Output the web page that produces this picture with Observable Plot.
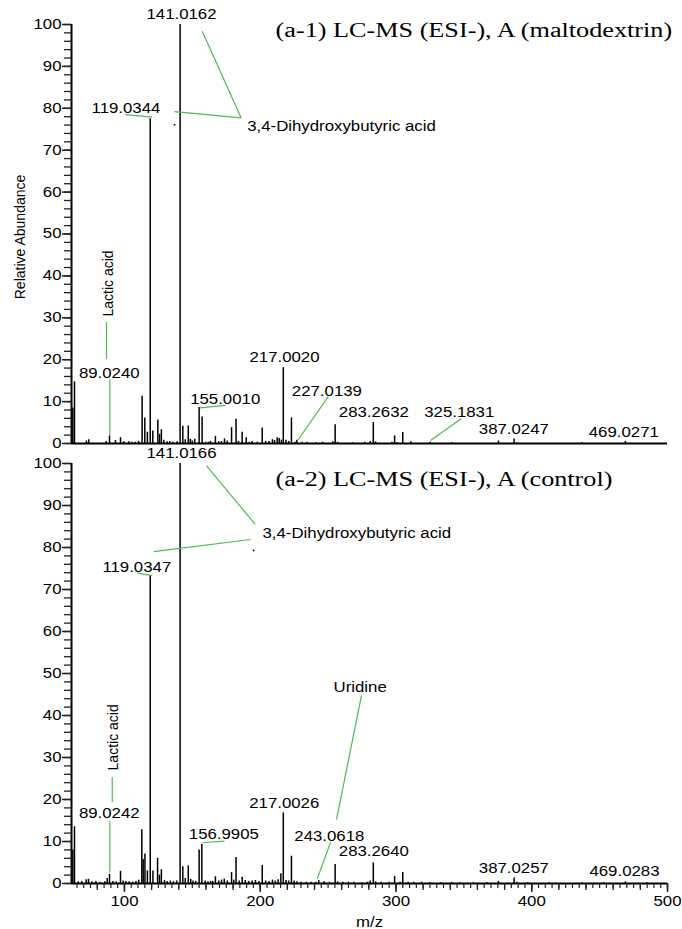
<!DOCTYPE html>
<html>
<head>
<meta charset="utf-8">
<script src="https://cdn.jsdelivr.net/npm/d3@7"></script>
<script src="https://cdn.jsdelivr.net/npm/@observablehq/plot@0.6"></script>
<style>
  html, body { margin: 0; padding: 0; background: #fff; }
  #wrap { position: relative; width: 682px; height: 929px; overflow: hidden; background: #fff; }
  #wrap svg { display: block; overflow: visible; }
</style>
</head>
<body>
<div id="wrap"></div>
<script>
// ---------- data: panel (a-1) maltodextrin ----------
const topMz  = [62.0,63.2,72.0,73.7,86.5,89.0,93.4,97.1,99.5,103.2,105.5,108.0,110.5,113.0,115.0,116.9,119.0,120.9,124.6,125.9,127.2,129.0,131.5,133.4,135.5,138.8,141.0,143.0,144.8,147.0,148.5,149.9,151.8,155.0,157.2,159.7,161.8,163.4,167.0,169.5,171.5,173.7,175.7,178.9,182.2,184.0,186.7,189.7,192.0,194.1,197.8,201.5,204.0,206.5,209.0,210.5,212.5,214.0,215.6,217.0,219.0,221.0,223.0,225.5,227.0,231.0,234.5,241.0,246.0,253.5,255.2,257.0,268.0,277.0,281.0,283.3,285.0,297.0,299.0,301.0,305.0,311.0,325.2,341.0,375.5,387.0,389.0,437.0,469.0];
const topInt = [8.5,14.7,0.6,0.9,0.5,1.8,0.7,1.4,0.4,0.4,0.3,0.3,0.5,11.3,6.1,2.7,77.5,3.0,5.6,2.2,3.3,0.8,0.4,0.5,0.3,0.4,100,4.1,0.9,4.2,1.0,0.6,1.0,8.6,6.3,0.3,0.3,0.5,1.7,0.4,0.5,1.1,0.6,3.8,5.8,0.5,2.7,1.4,0.3,0.5,0.3,3.7,0.5,0.5,0.9,0.7,1.4,1.2,0.8,18.1,0.8,0.5,6.1,0.3,0.8,0.3,0.3,0.2,0.3,0.4,4.5,0.3,0.2,0.3,0.5,5.0,0.4,0.3,1.8,0.2,2.6,0.4,0.3,0.2,0.6,1.1,0.2,0.2,0.5];

const topLabelText = ["141.0162","119.0344","89.0240","155.0010","217.0020","227.0139","283.2632","325.1831","387.0247","469.0271"];
const topLabelMz   = [142.0,101.1,88.8,174.2,217.9,249.1,283.7,346.6,386.8,467.8];
const topLabelInt  = [102.4,80.0,16.7,10.4,20.6,12.4,7.5,7.5,3.3,2.6];

const topNameText = ["3,4-Dihydroxybutyric acid"];
const topNameMz   = [190.4];
const topNameInt  = [75.7];
const topVertText = ["Lactic acid"];
const topVertMz   = [88.3];
const topVertInt  = [38.2];

// leader lines (m/z, abundance)
const topLeadX1 = [100.6,136.9,157.3,86.8,89.2,155.5,228.0,325.4];
const topLeadY1 = [78.5,79.2,98.4,29.0,15.3,8.5,0.9,0.7];
const topLeadX2 = [120.4,186.0,186.0,86.8,89.2,174.4,250.1,348.0];
const topLeadY2 = [77.9,77.7,77.7,20.2,1.9,9.1,11.2,5.9];
const topDotMz = [136.9], topDotInt = [76.1];
const topTitle = "(a-1) LC-MS (ESI-), A (maltodextrin)";
const topTitleMz = 211.3, topTitleInt = 98.6;

// ---------- data: panel (a-2) control ----------
const ctrlMz  = [62.0,63.2,66.0,68.5,71.8,73.5,76.0,79.0,82.0,85.5,87.3,89.0,91.5,94.0,97.1,99.0,101.0,103.5,106.0,108.5,110.5,112.8,113.8,115.1,116.9,119.0,121.0,124.4,125.8,127.2,129.5,131.5,133.8,136.0,138.5,141.0,143.0,144.8,147.0,148.8,150.5,152.5,155.0,157.0,159.5,161.5,163.5,165.0,167.0,169.5,171.5,173.5,175.8,178.9,180.5,182.2,184.5,186.7,189.0,191.5,194.0,196.5,199.0,201.5,204.0,206.5,209.0,211.0,213.2,215.2,217.0,219.0,221.0,223.0,225.0,227.0,230.0,234.0,237.5,241.0,243.1,247.0,251.0,255.2,257.0,261.0,265.0,269.0,275.0,279.0,281.0,283.3,285.0,289.0,295.0,299.0,303.0,305.0,309.0,313.0,319.0,325.0,333.0,341.0,347.0,357.0,367.0,375.5,387.0,389.0,397.0,413.0,437.0,453.0,469.0,485.0];
const ctrlInt = [8.0,13.5,0.4,0.5,0.9,1.0,0.4,0.5,0.3,0.4,1.2,2.2,0.5,0.4,2.9,0.6,0.5,0.4,0.3,0.5,0.8,12.8,5.7,7.0,3.0,73.3,3.0,6.0,2.0,3.3,0.7,0.5,0.6,0.4,0.6,100,4.0,1.2,4.2,1.0,0.6,0.5,8.0,9.3,0.6,0.4,0.5,0.5,1.6,0.6,0.8,1.0,0.6,2.6,0.8,6.2,0.6,1.5,0.7,0.5,0.6,0.7,0.5,4.3,0.6,0.5,0.8,0.6,0.9,2.3,16.8,0.7,0.6,6.5,0.6,0.4,0.3,0.3,0.3,0.3,0.7,0.4,0.3,4.5,0.4,0.3,0.3,0.3,0.2,0.3,0.6,4.9,0.4,0.3,0.3,1.7,0.3,2.6,0.3,0.3,0.3,0.2,0.2,0.3,0.2,0.2,0.2,0.5,1.3,0.3,0.2,0.2,0.2,0.2,0.4,0.2];

const ctrlLabelText = ["141.0166","119.0347","89.0242","156.9905","217.0026","243.0618","283.2640","387.0257","469.0283"];
const ctrlLabelMz   = [142.0,109.1,88.8,173.2,217.7,250.9,283.7,386.8,468.3];
const ctrlLabelInt  = [102.3,75.3,16.6,11.6,19.1,11.2,7.5,3.5,2.9];

const ctrlNameText = ["3,4-Dihydroxybutyric acid","Uridine"];
const ctrlNameMz   = [201.7,254.0];
const ctrlNameInt  = [83.3,46.7];
const ctrlVertText = ["Lactic acid"];
const ctrlVertMz   = [91.9];
const ctrlVertInt  = [34.8];

const ctrlLeadX1 = [160.4,121.6,109.4,91.0,89.2,157.3,274.6,251.8];
const ctrlLeadY1 = [99.5,79.0,73.9,25.3,14.8,9.7,44.8,9.8];
const ctrlLeadX2 = [196.3,192.9,120.4,91.0,89.2,173.7,256.2,242.0];
const ctrlLeadY2 = [85.5,81.9,73.3,19.4,2.6,10.1,15.2,1.1];
const ctrlDotMz = [195.1], ctrlDotInt = [79.3];
const ctrlTitle = "(a-2) LC-MS (ESI-), A (control)";
const ctrlTitleMz = 211.3, ctrlTitleInt = 96.2;

// axis ticks
const xDomain = [61, 500];
const yMajor = [0,10,20,30,40,50,60,70,80,90,100];
const yMinor = d3.range(0, 101, 2);
const xMajor = [100,200,300,400,500];
const xMid = d3.range(80, 501, 20);
const xMinor = d3.range(65, 501, 5);

// ---------- build ----------
const GREEN = "#52b852";
const SANS = "'Liberation Sans', Arial, Helvetica, sans-serif";
const SERIF = "'Liberation Serif', 'Times New Roman', serif";

const zipPeaks = (m, v) => m.map((d, i) => ({mz: d, ab: v[i]}));
const zipText = (t, m, v) => t.map((d, i) => ({text: d, mz: m[i], ab: v[i]}));
const zipLines = (a, b, c, e) => a.map((d, i) => ({x1: d, y1: b[i], x2: c[i], y2: e[i]}));

function panel(cfg) {
  const marks = [
    Plot.ruleX(zipPeaks(cfg.mz, cfg.int), {x: "mz", y1: 0, y2: "ab", stroke: "#000", strokeWidth: 1.5}),
    Plot.link(zipLines(cfg.lx1, cfg.ly1, cfg.lx2, cfg.ly2), {x1: "x1", y1: "y1", x2: "x2", y2: "y2", stroke: GREEN, strokeWidth: 1.2}),
    Plot.dot(zipPeaks(cfg.dotMz, cfg.dotInt), {x: "mz", y: "ab", r: 0.9, fill: "#000", stroke: null}),
    Plot.text(zipText(cfg.labelText, cfg.labelMz, cfg.labelInt), {x: "mz", y: "ab", text: "text", fontSize: 14, fill: "#000"}),
    Plot.text(zipText(cfg.nameText, cfg.nameMz, cfg.nameInt), {x: "mz", y: "ab", text: "text", fontSize: 14, textAnchor: "start", fill: "#000"}),
    Plot.text(zipText(cfg.vertText, cfg.vertMz, cfg.vertInt), {x: "mz", y: "ab", text: "text", fontSize: 14, rotate: -90, fill: "#000"}),
    Plot.text([cfg.title], {x: () => cfg.titleMz, y: () => cfg.titleInt, text: d => d, textAnchor: "start", fontSize: 20, fontFamily: SERIF, fill: "#000"}),
    Plot.axisY(yMinor, {tickSize: 7, tickFormat: () => "", label: null, stroke: "#222", strokeWidth: 1.3}),
    Plot.axisY(yMajor, {tickSize: 9, tickPadding: 1, label: null, stroke: "#222", strokeWidth: 1.5, fontSize: 14, fill: "#000"}),
    Plot.ruleX([xDomain[0]], {y1: 0, y2: 100, stroke: "#000", strokeWidth: 2}),
    Plot.ruleY([0], {stroke: "#000", strokeWidth: 2})
  ];
  if (cfg.yLabel) {
    marks.push(Plot.text([cfg.yLabel], {frameAnchor: "left", textAnchor: "middle", text: d => d, rotate: -90, dx: -51, dy: 3, fontSize: 14, fill: "#000"}));
  }
  if (cfg.xAxis) {
    marks.push(
      Plot.axisX(xMinor, {tickSize: 5, tickFormat: () => "", label: null, stroke: "#222", strokeWidth: 1.2}),
      Plot.axisX(xMid, {tickSize: 7, tickFormat: () => "", label: null, stroke: "#222", strokeWidth: 1.3}),
      Plot.axisX(xMajor, {tickSize: 9, tickPadding: 4, label: null, stroke: "#222", strokeWidth: 1.5, fontSize: 14, fill: "#000"}),
      Plot.text(["m/z"], {frameAnchor: "bottom", text: d => d, lineAnchor: "middle", dy: 39, fontSize: 14, fill: "#000"})
    );
  }
  return Plot.plot({
    width: 682,
    height: cfg.height,
    marginLeft: 71,
    marginRight: 15,
    marginTop: cfg.marginTop,
    marginBottom: cfg.marginBottom,
    x: {domain: xDomain, axis: cfg.xAxis ? undefined : null},
    y: {domain: [0, 100]},
    style: {fontFamily: SANS, fontSize: "14px", background: "transparent", overflow: "visible", color: "#000"},
    marks
  });
}

const chartTop = panel({
  height: 446, marginTop: 24, marginBottom: 3, xAxis: false, yLabel: "Relative Abundance",
  mz: topMz, int: topInt,
  labelText: topLabelText, labelMz: topLabelMz, labelInt: topLabelInt,
  nameText: topNameText, nameMz: topNameMz, nameInt: topNameInt,
  vertText: topVertText, vertMz: topVertMz, vertInt: topVertInt,
  lx1: topLeadX1, ly1: topLeadY1, lx2: topLeadX2, ly2: topLeadY2,
  dotMz: topDotMz, dotInt: topDotInt,
  title: topTitle, titleMz: topTitleMz, titleInt: topTitleInt
});
const chartBottom = panel({
  height: 483, marginTop: 17, marginBottom: 46, xAxis: true, yLabel: null,
  mz: ctrlMz, int: ctrlInt,
  labelText: ctrlLabelText, labelMz: ctrlLabelMz, labelInt: ctrlLabelInt,
  nameText: ctrlNameText, nameMz: ctrlNameMz, nameInt: ctrlNameInt,
  vertText: ctrlVertText, vertMz: ctrlVertMz, vertInt: ctrlVertInt,
  lx1: ctrlLeadX1, ly1: ctrlLeadY1, lx2: ctrlLeadX2, ly2: ctrlLeadY2,
  dotMz: ctrlDotMz, dotInt: ctrlDotInt,
  title: ctrlTitle, titleMz: ctrlTitleMz, titleInt: ctrlTitleInt
});

const wrap = document.getElementById("wrap");
wrap.appendChild(chartTop);
wrap.appendChild(chartBottom);

// the reference's lettering is horizontally widened; reproduce that on horizontal text
function widen(svg) {
  svg.querySelectorAll("text").forEach(t => {
    const tr = t.getAttribute("transform") || "";
    if (tr.includes("rotate")) return;
    const L = t.getComputedTextLength();
    if (!(L > 0)) return;
    const fam = getComputedStyle(t).fontFamily || "";
    const f = fam.includes("Serif") ? 1.31 : 1.2;
    t.setAttribute("textLength", (L * f).toFixed(2));
    t.setAttribute("lengthAdjust", "spacingAndGlyphs");
  });
}
widen(chartTop);
widen(chartBottom);
</script>
</body>
</html>
